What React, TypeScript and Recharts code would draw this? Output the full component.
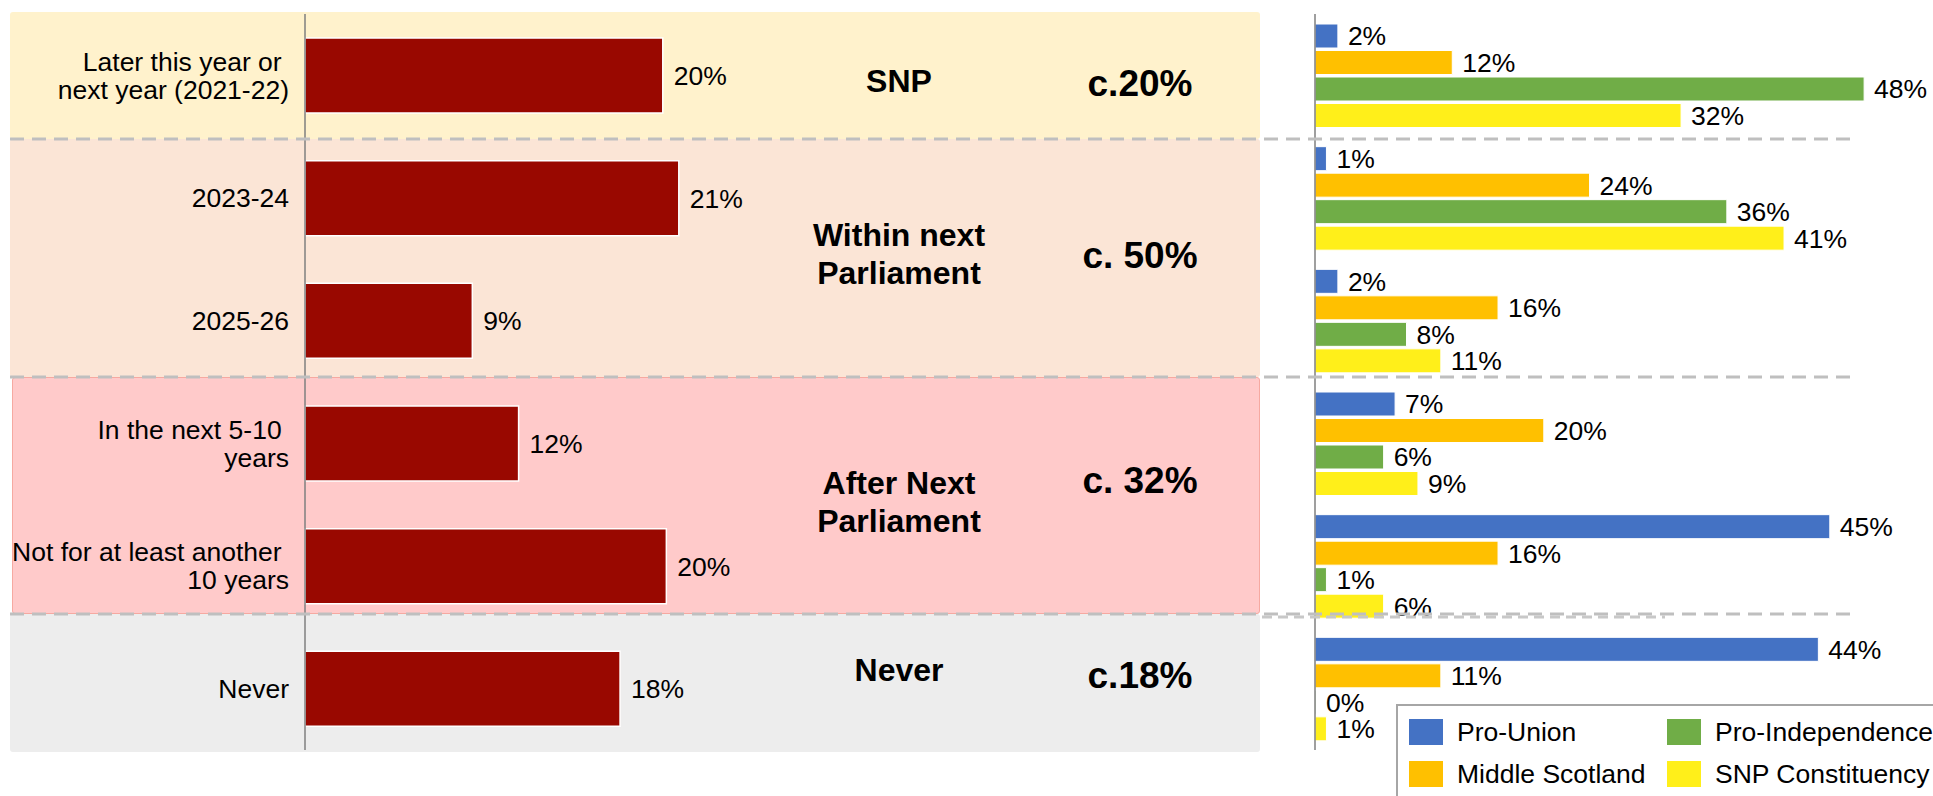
import React from "react"
import { BarChart, Bar, XAxis, YAxis, LabelList, Legend } from "recharts"

// timeframe categories ("\n" = line break in the axis label)
const timeframes = [
  "Later this year or \nnext year (2021-22)",
  "2023-24",
  "2025-26",
  "In the next 5-10 \nyears",
  "Not for at least another \n10 years",
  "Never",
]

// all respondents (bar lengths, labels are rounded)
const allVoters = [20.1, 21, 9.4, 12, 20.3, 17.7]

// by segment
const proUnion = [2, 1, 2, 7, 45, 44]
const middleScotland = [12, 24, 16, 20, 16, 11]
const proIndependence = [48, 36, 8, 6, 1, 0]
const snpConstituency = [32, 41, 11, 9, 6, 1]

// legend order (row by row)
const segmentOrder = ["Pro-Union", "Middle Scotland", "Pro-Independence", "SNP Constituency"]

// grouped summary text
const groupNames = ["SNP", "Within next\nParliament", "After Next\nParliament", "Never"]
const groupShares = ["c.20%", "c. 50%", "c. 32%", "c.18%"]

const rows = timeframes.map((t, i) => ({
  t,
  all: allVoters[i],
  pu: proUnion[i],
  ms: middleScotland[i],
  pi: proIndependence[i],
  snp: snpConstituency[i],
}))

// slide decoration (background panels behind the left chart)
const panels = [
  { top: 12, bottom: 139, left: 10, fill: "#FFF2CC", border: "none", nameY: 81, shareY: 84 },
  { top: 139, bottom: 377, left: 10, fill: "#FBE5D6", border: "none", nameY: 254, shareY: 256 },
  { top: 377, bottom: 614, left: 12, fill: "#FFCACA", border: "1px solid #F6A9A1", nameY: 502, shareY: 481 },
  { top: 614, bottom: 752, left: 10, fill: "#EDEDED", border: "none", nameY: 670, shareY: 676 },
]
const dividers = [139, 377, 614]

const FONT = '"Liberation Sans", Arial, sans-serif'
const pct = (v: any) => `${Math.round(Number(v))}%`

const TimeTick = ({ x, y, payload }: any) => {
  const lines = String(payload.value).split("\n")
  const lh = 28
  const y0 = y - ((lines.length - 1) * lh) / 2
  return (
    <text x={x} y={y0} textAnchor="end" fontSize={26.5} fill="#000" style={{ whiteSpace: "pre" }}>
      {lines.map((l, i) => (
        <tspan key={i} x={x} y={y0 + i * lh} dy="0.35em">
          {l}
        </tspan>
      ))}
    </text>
  )
}

const renderLegend = (props: any) => {
  const payload = [...(props.payload || [])].sort(
    (a: any, b: any) => segmentOrder.indexOf(a.value) - segmentOrder.indexOf(b.value)
  )
  return (
    <div
      style={{
        border: "2px solid #A6A6A6",
        background: "#fff",
        width: 560,
        height: 110,
        boxSizing: "border-box",
        padding: "5px 0 0 11px",
        display: "grid",
        gridTemplateColumns: "258px 260px",
        gridTemplateRows: "42px 42px",
        gridAutoFlow: "row",
        fontFamily: FONT,
      }}
    >
      {[payload[0], payload[2], payload[1], payload[3]].filter(Boolean).map((entry: any) => (
        <div key={entry.value} style={{ display: "flex", alignItems: "center" }}>
          <span style={{ width: 34, height: 26, background: entry.color, marginRight: 14, flex: "none" }} />
          <span style={{ fontSize: 26.5, color: "#000", whiteSpace: "nowrap" }}>{entry.value}</span>
        </div>
      ))}
    </div>
  )
}

export default function App() {
  return (
    <div
      style={{
        position: "absolute",
        left: 0,
        top: 0,
        width: 1933,
        height: 796,
        overflow: "hidden",
        background: "#fff",
        fontFamily: FONT,
      }}
    >
      {panels.map((p, i) => (
        <div
          key={i}
          style={{
            position: "absolute",
            left: p.left,
            top: p.top,
            width: 1260 - p.left,
            height: p.bottom - p.top,
            background: p.fill,
            border: p.border,
            boxSizing: "border-box",
            borderRadius: 3,
          }}
        />
      ))}

      <div style={{ position: "absolute", left: 0, top: 0 }}>
        <BarChart
          width={1262}
          height={796}
          data={rows}
          layout="vertical"
          margin={{ top: 14, right: 67, bottom: 46, left: 0 }}
        >
          <XAxis type="number" domain={[0, 50]} hide />
          <YAxis
            type="category"
            dataKey="t"
            width={305}
            tickSize={0}
            tickMargin={16}
            tickLine={false}
            axisLine={{ stroke: "#7F7F7F", strokeWidth: 1.5 }}
            tick={<TimeTick />}
            interval={0}
          />
          <Bar dataKey="all" fill="#990800" stroke="#fff" strokeWidth={1.5} barSize={75} isAnimationActive={false}>
            <LabelList dataKey="all" position="right" offset={11} formatter={pct} fontSize={26.5} fill="#000" />
          </Bar>
        </BarChart>
      </div>

      <div style={{ position: "absolute", left: 1262, top: 0 }}>
        <BarChart
          width={671}
          height={796}
          data={rows}
          layout="vertical"
          barGap={2.5}
          margin={{ top: 14, right: 46, bottom: 46, left: 0 }}
        >
          <XAxis type="number" domain={[0, 50]} hide />
          <YAxis
            type="category"
            dataKey="t"
            width={53}
            tick={false}
            tickLine={false}
            axisLine={{ stroke: "#7F7F7F", strokeWidth: 1.5 }}
          />
          <Legend
            layout="horizontal"
            verticalAlign="middle"
            align="center"
            content={renderLegend}
            wrapperStyle={{ left: 134, top: 704, width: 560 }}
          />
          <Bar dataKey="pu" name="Pro-Union" fill="#4472C4" stroke="#fff" strokeWidth={1} barSize={24} isAnimationActive={false}>
            <LabelList dataKey="pu" position="right" offset={10} formatter={pct} fontSize={26.5} fill="#000" />
          </Bar>
          <Bar dataKey="ms" name="Middle Scotland" fill="#FFC000" stroke="#fff" strokeWidth={1} barSize={24} isAnimationActive={false}>
            <LabelList dataKey="ms" position="right" offset={10} formatter={pct} fontSize={26.5} fill="#000" />
          </Bar>
          <Bar
            dataKey="pi"
            name="Pro-Independence"
            fill="#70AD47"
            stroke="#fff"
            strokeWidth={1}
            barSize={24}
            minPointSize={(v: any) => (Number(v) === 0 ? 1 : 0)}
            isAnimationActive={false}
          >
            <LabelList dataKey="pi" position="right" offset={10} formatter={pct} fontSize={26.5} fill="#000" />
          </Bar>
          <Bar dataKey="snp" name="SNP Constituency" fill="#FFEF1A" stroke="#fff" strokeWidth={1} barSize={24} isAnimationActive={false}>
            <LabelList dataKey="snp" position="right" offset={10} formatter={pct} fontSize={26.5} fill="#000" />
          </Bar>
        </BarChart>
      </div>

      <svg width={1933} height={796} style={{ position: "absolute", left: 0, top: 0, pointerEvents: "none" }}>
        {dividers.map((y) => (
          <line key={y} x1={10} x2={1853} y1={y} y2={y} stroke="#BFBFBF" strokeWidth={3} strokeDasharray="14 8" />
        ))}
        <line x1={1262} x2={1665} y1={617} y2={617} stroke="#C8C8C8" strokeWidth={3} strokeDasharray="10 6" />
      </svg>

      {panels.map((p, i) => (
        <React.Fragment key={i}>
          <div
            style={{
              position: "absolute",
              left: 899,
              top: p.nameY,
              transform: "translate(-50%, -50%)",
              fontWeight: 700,
              fontSize: 32,
              lineHeight: "38px",
              textAlign: "center",
              whiteSpace: "pre",
              color: "#000",
            }}
          >
            {groupNames[i]}
          </div>
          <div
            style={{
              position: "absolute",
              left: 1140,
              top: p.shareY,
              transform: "translate(-50%, -50%)",
              fontWeight: 700,
              fontSize: 37,
              lineHeight: "40px",
              whiteSpace: "pre",
              color: "#000",
            }}
          >
            {groupShares[i]}
          </div>
        </React.Fragment>
      ))}
    </div>
  )
}
